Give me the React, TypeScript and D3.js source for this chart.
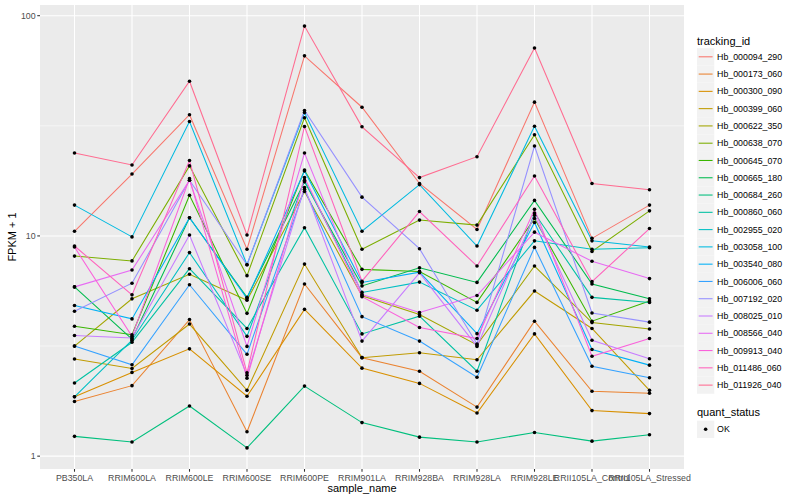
import React from "react";
import * as d3 from "d3";

// sample names on the x axis
const sampleNames = [
  "PB350LA",
  "RRIM600LA",
  "RRIM600LE",
  "RRIM600SE",
  "RRIM600PE",
  "RRIM901LA",
  "RRIM928BA",
  "RRIM928LA",
  "RRIM928LE",
  "RRII105LA_Control",
  "RRII105LA_Stressed",
];

const trackingIds = [
  "Hb_000094_290",
  "Hb_000173_060",
  "Hb_000300_090",
  "Hb_000399_060",
  "Hb_000622_350",
  "Hb_000638_070",
  "Hb_000645_070",
  "Hb_000665_180",
  "Hb_000684_260",
  "Hb_000860_060",
  "Hb_002955_020",
  "Hb_003058_100",
  "Hb_003540_080",
  "Hb_006006_060",
  "Hb_007192_020",
  "Hb_008025_010",
  "Hb_008566_040",
  "Hb_009913_040",
  "Hb_011486_060",
  "Hb_011926_040",
];

// FPKM + 1, one row per tracking id, one column per sample
const fpkm: number[][] = [
  [10.5, 19.1, 35.5, 8.7, 65.7, 38.4, 17.3, 10.7, 40.5, 9.75, 13.8],
  [1.77, 2.09, 4.17, 1.29, 6.05, 2.8, 2.43, 1.67, 4.1, 1.97, 1.93],
  [1.86, 2.4, 3.07, 1.87, 4.64, 2.51, 2.14, 1.57, 3.59, 1.61, 1.56],
  [2.76, 2.5, 3.98, 1.99, 7.45, 2.8, 2.95, 2.74, 5.62, 3.8, 1.99],
  [3.16, 5.18, 6.7, 5.1, 15.9, 5.35, 4.4, 3.2, 7.3, 4.04, 3.78],
  [8.1, 7.7, 20.8, 6.6, 34.4, 8.7, 11.8, 11.2, 28.8, 8.5, 13.0],
  [3.89, 3.56, 15.3, 4.45, 19.9, 7.05, 6.9, 4.99, 12.0, 4.1, 5.06],
  [5.87, 3.4, 12.1, 5.26, 17.6, 5.93, 7.17, 6.15, 14.5, 6.05, 5.18],
  [1.23, 1.16, 1.69, 1.09, 2.08, 1.42, 1.22, 1.16, 1.28, 1.17, 1.25],
  [2.15, 3.29, 7.1, 3.8, 10.9, 3.59, 4.32, 2.43, 12.7, 5.26, 4.99],
  [1.86, 3.36, 8.4, 3.5, 17.9, 5.54, 6.17, 4.6, 9.5, 8.7, 8.83],
  [13.8, 9.9, 33.1, 7.4, 36.3, 10.5, 17.1, 9.0, 31.5, 9.5, 8.9],
  [4.83, 4.2, 12.1, 5.2, 19.7, 6.15, 6.85, 3.6, 11.5, 3.05, 2.59],
  [3.16, 2.6, 6.0, 2.9, 16.3, 4.3, 3.33, 2.28, 8.87, 2.56, 2.27],
  [4.55, 6.1, 17.9, 7.4, 37.1, 15.0, 8.75, 3.23, 25.6, 4.47, 4.06],
  [3.53, 3.44, 10.1, 2.33, 16.6, 3.33, 6.8, 3.15, 12.4, 3.36, 2.77],
  [5.87, 7.0, 17.9, 3.15, 23.8, 5.42, 4.49, 5.36, 10.4, 7.67, 6.4],
  [8.9, 3.5, 18.2, 2.26, 18.4, 5.3, 3.84, 3.42, 13.2, 2.84, 3.42],
  [9.0, 5.4, 22, 2.39, 31.4, 6.23, 12.9, 7.3, 18.7, 6.2, 10.8],
  [23.8, 21, 50.4, 10.1, 89.7, 31.3, 18.4, 22.9, 71.3, 17.3, 16.2],
];

const yTicks = [1, 10, 100];
const quantStatus = ["OK"];

// ggplot2 hue_pal()(20)
const palette = [
  "#F8766D", "#EA8331", "#D89000", "#C09B00", "#A3A500",
  "#7CAE00", "#39B600", "#00BB4E", "#00BF7D", "#00C1A3",
  "#00BFC4", "#00BAE0", "#00B0F6", "#35A2FF", "#9590FF",
  "#C77CFF", "#E76BF3", "#FA62DB", "#FF62BC", "#FF6C91",
];

const FONT = "'Liberation Sans', Arial, Helvetica, sans-serif";
const PANEL = { left: 40, right: 684, top: 5, bottom: 469 };
const LEGEND_X = 697;
const KEY = 17.28;

export default function App() {
  const x = d3
    .scalePoint<string>()
    .domain(sampleNames)
    .range([PANEL.left, PANEL.right])
    .padding(0.6);

  // log10 scale with ggplot's 5% expansion
  const all = fpkm.flat();
  const lo = Math.log10(d3.min(all)!);
  const hi = Math.log10(d3.max(all)!);
  const pad = (hi - lo) * 0.05;
  const y = d3
    .scaleLog()
    .domain([10 ** (lo - pad), 10 ** (hi + pad)])
    .range([PANEL.bottom, PANEL.top]);

  const minorTicks = [10 ** -0.5, 10 ** 0.5, 10 ** 1.5, 10 ** 2.5].filter(
    (v) => v > y.domain()[0] && v < y.domain()[1]
  );

  const line = d3
    .line<number>()
    .x((_, i) => x(sampleNames[i])!)
    .y((d) => y(d));

  const color = d3.scaleOrdinal<string, string>().domain(trackingIds).range(palette);

  return (
    <svg
      width={800}
      height={500}
      style={{ position: "absolute", left: 0, top: 0, background: "white" }}
      fontFamily={FONT}
    >
      {/* panel */}
      <rect
        x={PANEL.left}
        y={PANEL.top}
        width={PANEL.right - PANEL.left}
        height={PANEL.bottom - PANEL.top}
        fill="#EBEBEB"
      />
      {minorTicks.map((t) => (
        <line
          key={"mn" + t}
          x1={PANEL.left}
          x2={PANEL.right}
          y1={y(t)}
          y2={y(t)}
          stroke="white"
          strokeWidth={0.53}
        />
      ))}
      {yTicks.map((t) => (
        <line
          key={"my" + t}
          x1={PANEL.left}
          x2={PANEL.right}
          y1={y(t)}
          y2={y(t)}
          stroke="white"
          strokeWidth={1.07}
        />
      ))}
      {sampleNames.map((s) => (
        <line
          key={"mx" + s}
          x1={x(s)}
          x2={x(s)}
          y1={PANEL.top}
          y2={PANEL.bottom}
          stroke="white"
          strokeWidth={1.07}
        />
      ))}

      {/* lines */}
      {fpkm.map((row, i) => (
        <path
          key={trackingIds[i]}
          d={line(row)!}
          fill="none"
          stroke={color(trackingIds[i])}
          strokeWidth={1.07}
        />
      ))}
      {/* points */}
      {fpkm.map((row, i) =>
        row.map((v, j) => (
          <circle
            key={trackingIds[i] + j}
            cx={x(sampleNames[j])}
            cy={y(v)}
            r={1.8}
            fill="black"
          />
        ))
      )}

      {/* y axis */}
      {yTicks.map((t) => (
        <g key={"yt" + t}>
          <line
            x1={PANEL.left - 2.74}
            x2={PANEL.left}
            y1={y(t)}
            y2={y(t)}
            stroke="#333333"
            strokeWidth={1.07}
          />
          <text
            x={PANEL.left - 4.4}
            y={y(t) + 3.1}
            textAnchor="end"
            fontSize={8.8}
            fill="#4D4D4D"
          >
            {t}
          </text>
        </g>
      ))}
      {/* x axis */}
      {sampleNames.map((s) => (
        <g key={"xt" + s}>
          <line
            x1={x(s)}
            x2={x(s)}
            y1={PANEL.bottom}
            y2={PANEL.bottom + 2.74}
            stroke="#333333"
            strokeWidth={1.07}
          />
          <text
            x={x(s)}
            y={PANEL.bottom + 11.5}
            textAnchor="middle"
            fontSize={8.8}
            fill="#4D4D4D"
          >
            {s}
          </text>
        </g>
      ))}
      <text
        x={(PANEL.left + PANEL.right) / 2}
        y={492}
        textAnchor="middle"
        fontSize={11}
        fill="black"
      >
        sample_name
      </text>
      <text
        transform={`translate(16, ${(PANEL.top + PANEL.bottom) / 2}) rotate(-90)`}
        textAnchor="middle"
        fontSize={11}
        fill="black"
      >
        FPKM + 1
      </text>

      {/* legend: tracking_id */}
      <text x={LEGEND_X} y={44.5} fontSize={11} fill="black">
        tracking_id
      </text>
      {trackingIds.map((id, i) => {
        const cy = 56.8 + i * KEY;
        return (
          <g key={"lg" + id}>
            <rect
              x={LEGEND_X}
              y={cy - KEY / 2}
              width={KEY}
              height={KEY}
              fill="#F2F2F2"
            />
            <line
              x1={LEGEND_X + 1.7}
              x2={LEGEND_X + KEY - 1.7}
              y1={cy}
              y2={cy}
              stroke={color(id)}
              strokeWidth={1.07}
            />
            <text x={LEGEND_X + KEY + 2.8} y={cy + 3.1} fontSize={8.8} fill="black">
              {id}
            </text>
          </g>
        );
      })}

      {/* legend: quant_status */}
      <text x={LEGEND_X} y={416} fontSize={11} fill="black">
        quant_status
      </text>
      {quantStatus.map((q, i) => {
        const cy = 429.3 + i * KEY;
        return (
          <g key={"q" + q}>
            <rect
              x={LEGEND_X}
              y={cy - KEY / 2}
              width={KEY}
              height={KEY}
              fill="#F2F2F2"
            />
            <circle cx={LEGEND_X + KEY / 2} cy={cy} r={1.8} fill="black" />
            <text x={LEGEND_X + KEY + 2.8} y={cy + 3.1} fontSize={8.8} fill="black">
              {q}
            </text>
          </g>
        );
      })}
    </svg>
  );
}
